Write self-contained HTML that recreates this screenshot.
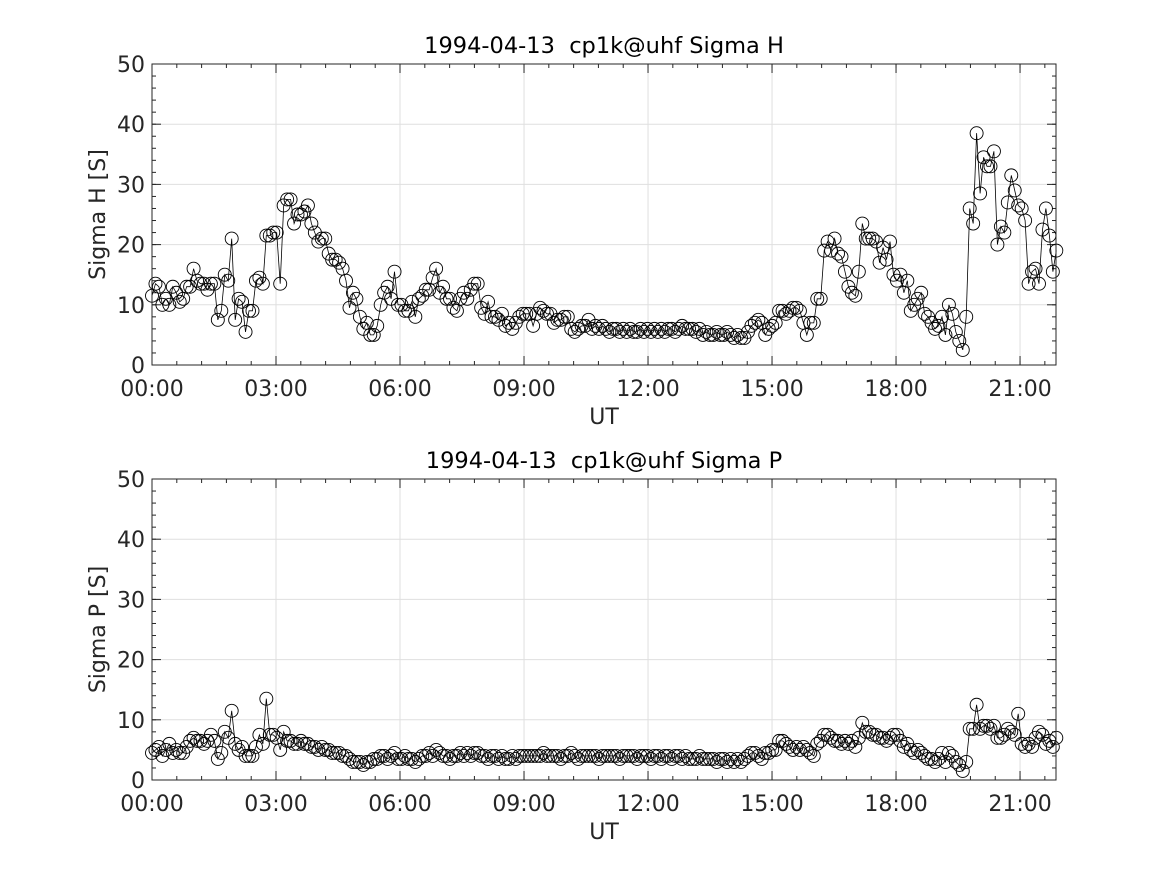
<!DOCTYPE html>
<html><head><meta charset="utf-8"><style>
html,body{margin:0;padding:0;background:#fff;}
svg{display:block;font-family:"DejaVu Sans","Liberation Sans",sans-serif;}
text{white-space:pre;}
</style></head><body>
<svg id="fig" width="1167" height="875" viewBox="0 0 1167 875"></svg>
<script>
const xTickLabels = ["00:00","03:00","06:00","09:00","12:00","15:00","18:00","21:00"];
const xTickHours = [0,3,6,9,12,15,18,21];
const yTickLabels = ["0","10","20","30","40","50"];
const yTickValues = [0,10,20,30,40,50];
const stepHours = 1/11.93;
const sigmaH = [
11.5,13.5,13,10,11,10,13,12,10.5,11,13,13,
16,14,13.5,13.5,12.5,13.5,13.5,7.5,9,15,14,21,
7.5,11,10.5,5.5,9,9,14,14.5,13.5,21.5,21.5,22,
22,13.5,26.5,27.5,27.5,23.5,25,25,25.5,26.5,23.5,22,
20.5,21,21,18.5,17.5,17.5,17,16,14,9.5,12,11,
8,6,7,5,5,6.5,10,12,13,11,15.5,10,
10,9,9,10.5,8,11,11.5,12.5,12.5,14.5,16,12,
13,11,11,9.5,9,11,12,11,12.5,13.5,13.5,9.5,
8.5,10.5,8,8,7.5,8.5,6.5,7,6,7,8,8.5,
8.5,8.5,6.5,8.5,9.5,9,8.5,8.5,7,7.5,7.5,8,
8,6,5.5,6,6.5,6.5,7.5,6,6.5,6,6.5,6,
5.5,6,6,5.5,6,5.5,6,5.5,5.5,6,5.5,6,
5.5,6,5.5,6,5.5,6,6,5.5,6,6.5,6,6,
6,5.5,6,5,5.5,5,5,5.5,5,5,5.5,5,
4.5,5,4.5,4.5,5.5,6.5,7,7.5,7,5,6,6.5,
7,9,9,8.5,9,9.5,9.5,9,7,5,7,7,
11,11,19,20.5,19,21,18.5,18,15.5,13,12,11.5,
15.5,23.5,21,21,21,20.5,17,19.5,17.5,20.5,15,14,
15,12,14,9,10,11,12,8.5,8,7,6,6.5,
8,5,10,8.5,5.5,4,2.5,8,26,23.5,38.5,28.5,
34.5,33,33,35.5,20,23,22,27,31.5,29,26.5,26,
24,13.5,15.5,16,13.5,22.5,26,21.5,15.5,19];
const sigmaP = [
4.5,5,5.5,4,5,6,4.5,5,4.5,4.5,5.5,6.5,
7,6.5,6.5,6,6.5,7.5,6.5,3.5,4.5,8,7,11.5,
6,5,5.5,4,4,4,5.5,7.5,6,13.5,7.5,7.5,
7,5,8,6.5,6.5,6,6,6.5,6,6,5.5,5.5,
5,5.5,5,5,4.5,4.5,4.5,4,4,3.5,3,3,
3,2.5,3,3,3.5,3.5,4,4,3.5,4,4.5,3.5,
3.5,4,3.5,3.5,3,3.5,4,4,4.5,4,5,4.5,
4,4,3.5,4,4,4.5,4,4.5,4,4.5,4.5,4,
4,3.5,4,4,3.5,4,3.5,3.5,4,3.5,4,4,
4,4,4,4,4,4.5,4,4,4,4,3.5,4,
4,4.5,4,3.5,4,4,4,4,4,3.5,4,4,
4,4,4,3.5,4,4,4,4,3.5,4,4,4,
3.5,4,4,3.5,4,4,3.5,4,4,3.5,4,3.5,
3.5,3.5,4,3.5,3.5,3.5,3.5,3,3.5,3.5,3,3.5,
3,3.5,3,3.5,4,4.5,4.5,4,3.5,4.5,4.5,5,
5,6.5,6.5,6,5.5,5,5.5,5,5.5,5,4.5,4,
6,6.5,7.5,7.5,7,6.5,6.5,6,6.5,6,6.5,5.5,
7,9.5,8,8,7.5,7.5,7,7,6.5,7,7.5,7.5,
6.5,5.5,6,5,4.5,5,4.5,4,3.5,3.5,3,3.5,
4.5,3,4.5,4,3,2.5,1.5,3,8.5,8.5,12.5,8.5,
9,9,8.5,9,7,7,7.5,8.5,8,7.5,11,6,
5.5,6,5.5,7,8,7.5,6,6.5,5.5,7];

const NS="http://www.w3.org/2000/svg";
const svg=document.getElementById('fig');
function mk(tag,attrs,parent){const e=document.createElementNS(NS,tag);for(const k in attrs)e.setAttribute(k,attrs[k]);(parent||svg).appendChild(e);return e;}

function panel(top,title,ylabel,values,key){
  const L=152,R=1056,T=top,B=top+301,xMax=21.87,yMax=50;
  const X=h=>L+(R-L)*h/xMax, Y=v=>B-(B-T)*v/yMax;
  const g=mk('g',{});
  
  
  mk('rect',{x:L,y:T,width:R-L,height:B-T,fill:'#fff'},g);
  xTickHours.forEach(h=>{const l=mk('line',{x1:X(h),x2:X(h),y1:T,y2:B,stroke:'#dfdfdf','stroke-width':1},g);
    });
  yTickValues.forEach(v=>{const l=mk('line',{x1:L,x2:R,y1:Y(v),y2:Y(v),stroke:'#dfdfdf','stroke-width':1},g);
    });
  for(let h=0;h<=xMax;h+=0.6){[T,B].forEach((yy,i)=>{const d=i?-1:1;mk('line',{x1:X(h),x2:X(h),y1:yy,y2:yy+d*4,stroke:'#262626','stroke-width':1},g);});}
  xTickHours.forEach(h=>{[T,B].forEach((yy,i)=>{const d=i?-1:1;mk('line',{x1:X(h),x2:X(h),y1:yy,y2:yy+d*9,stroke:'#262626','stroke-width':1},g);});});
  for(let v=0;v<=yMax;v+=2){[L,R].forEach((xx,i)=>{const d=i?-1:1;mk('line',{x1:xx,x2:xx+d*4,y1:Y(v),y2:Y(v),stroke:'#262626','stroke-width':1},g);});}
  yTickValues.forEach(v=>{[L,R].forEach((xx,i)=>{const d=i?-1:1;mk('line',{x1:xx,x2:xx+d*9,y1:Y(v),y2:Y(v),stroke:'#262626','stroke-width':1},g);});});
  const pts=values.map((v,i)=>X(i*stepHours).toFixed(1)+','+Y(v).toFixed(1)).join(' ');
  const pl=mk('polyline',{points:pts,fill:'none',stroke:'#000','stroke-width':0.8},g);
  
  
  values.forEach((v,i)=>{const c=mk('circle',{cx:X(i*stepHours),cy:Y(v),r:6.5,fill:'none',stroke:'#000','stroke-width':0.9},g);
    
    });
  mk('rect',{x:L,y:T,width:R-L,height:B-T,fill:'none',stroke:'#262626','stroke-width':1},g);
  xTickLabels.forEach((s,i)=>{const t=mk('text',{x:X(xTickHours[i]),y:B+31,'text-anchor':'middle','font-size':22,fill:'#262626'},g);t.textContent=s;
    });
  yTickLabels.forEach((s,i)=>{const t=mk('text',{x:L-7,y:Y(yTickValues[i])+8,'text-anchor':'end','font-size':22,fill:'#262626'},g);t.textContent=s;
    });
  const tt=mk('text',{x:(L+R)/2+0,y:T-11,'text-anchor':'middle','font-size':22.5,fill:'#000'},g);tt.textContent=title;
  
  const xl=mk('text',{x:(L+R)/2,y:B+59,'text-anchor':'middle','font-size':22,fill:'#262626'},g);xl.textContent='UT';
  
  const yl=mk('text',{x:0,y:0,'text-anchor':'middle','font-size':22,fill:'#262626',transform:`translate(105,${(T+B)/2}) rotate(-90)`},g);yl.textContent=ylabel;
  
}
panel(64,'1994-04-13  cp1k@uhf Sigma H','Sigma H [S]',sigmaH,'sigma-h');
panel(479,'1994-04-13  cp1k@uhf Sigma P','Sigma P [S]',sigmaP,'sigma-p');
</script>
</body></html>
